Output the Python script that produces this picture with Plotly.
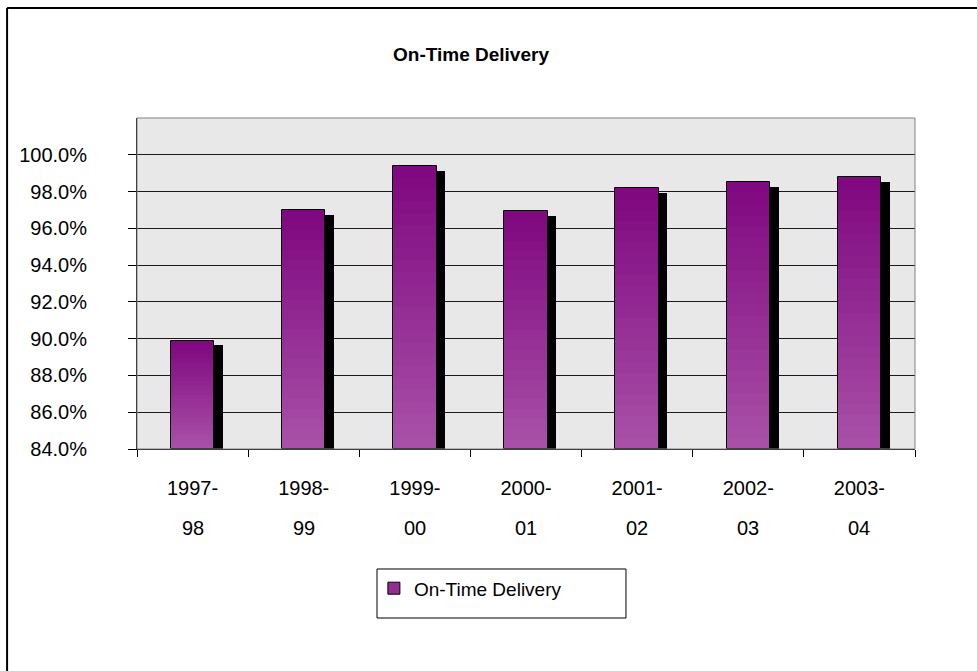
import plotly.graph_objects as go

# Daten
jahre = ['1997-98', '1998-99', '1999-00', '2000-01', '2001-02', '2002-03', '2003-04']
zeile1 = ['1997-', '1998-', '1999-', '2000-', '2001-', '2002-', '2003-']
zeile2 = ['98', '99', '00', '01', '02', '03', '04']
puenktlich = [89.9, 97.0, 99.4, 96.95, 98.2, 98.5, 98.8]
y_ticks = [84, 86, 88, 90, 92, 94, 96, 98, 100]

BASIS = 84
FONT = 'Arial, Liberation Sans, sans-serif'
DUNKEL = (0x80, 0x08, 0x80)
HELL = (0xA8, 0x50, 0xA8)
BREITE = 0.39
SCHICHTEN = 24


def mische(t):
    r, g, b = [round(d + (h - d) * t) for d, h in zip(DUNKEL, HELL)]
    return f'rgb({r},{g},{b})'


fig = go.Figure()

# Schatten
fig.add_trace(go.Bar(
    x=jahre, y=[v - 0.27 - BASIS for v in puenktlich], base=BASIS,
    width=BREITE, offset=-BREITE / 2 + 0.078,
    marker=dict(color='black', line=dict(width=0)),
    showlegend=False, hoverinfo='skip',
))

# Farbverlauf über gestapelte Schichten
for k in range(SCHICHTEN):
    anteil = 1 - k / SCHICHTEN
    fig.add_trace(go.Bar(
        x=jahre, y=[(v - BASIS) * anteil for v in puenktlich], base=BASIS,
        width=BREITE, offset=-BREITE / 2,
        marker=dict(color=mische(k / (SCHICHTEN - 1)), line=dict(width=0)),
        showlegend=False, hoverinfo='skip',
    ))

# Umriss
fig.add_trace(go.Bar(
    x=jahre, y=[v - BASIS for v in puenktlich], base=BASIS,
    width=BREITE, offset=-BREITE / 2,
    name='On-Time Delivery',
    marker=dict(color='rgba(0,0,0,0)', line=dict(color='black', width=1)),
    hovertemplate='%{x}: %{y:.1f}%<extra></extra>',
    showlegend=False,
))
# Legendeneintrag
fig.add_trace(go.Bar(
    x=[None], y=[None], name='On-Time Delivery',
    marker=dict(color=mische(0.5), line=dict(color='black', width=1)),
))

for j, t in zip(jahre, zeile2):
    fig.add_annotation(x=j, y=-0.2387, xref='x', yref='paper', text=t,
                       showarrow=False, yanchor='middle',
                       font=dict(family=FONT, size=20, color='black'))

# Rahmen
fig.add_shape(type='rect', xref='paper', yref='paper', x0=0, x1=1, y0=0, y1=1,
              line=dict(color='#808080', width=1), layer='above')
fig.add_shape(type='rect', xref='paper', yref='paper',
              x0=0.3085, x1=0.6285, y0=-0.5106, y1=-0.3625,
              line=dict(color='black', width=1))
fig.add_shape(type='line', xref='paper', yref='paper',
              x0=-0.167, x1=1.09, y0=1.332, y1=1.332, line=dict(color='black', width=2))
fig.add_shape(type='line', xref='paper', yref='paper',
              x0=-0.167, x1=-0.167, y0=1.332, y1=-0.7, line=dict(color='black', width=2))

fig.update_layout(
    width=977, height=671,
    margin=dict(l=137, r=62, t=118, b=222),
    paper_bgcolor='white', plot_bgcolor='#E8E8E8',
    barmode='overlay', bargap=0,
    title=dict(text='<b>On-Time Delivery</b>', x=471 / 977, xanchor='center',
               y=1 - 54 / 671, yanchor='middle',
               font=dict(family=FONT, size=19, color='black')),
    font=dict(family=FONT, size=20, color='black'),
    legend=dict(orientation='h', x=0.3045, xanchor='left', y=-0.421, yanchor='middle',
                bgcolor='rgba(0,0,0,0)', borderwidth=0,
                font=dict(family=FONT, size=19, color='black')),
    showlegend=True,
)

fig.update_xaxes(
    type='category', tickmode='array', tickvals=jahre, ticktext=zeile1,
    tickson='boundaries', ticks='outside', ticklen=7, tickcolor='black',
    ticklabelstandoff=21,
    showline=True, linecolor='black', linewidth=1,
    showgrid=False, zeroline=False,
    tickfont=dict(family=FONT, size=20, color='black'),
)
fig.update_yaxes(
    range=[84, 102], tickmode='array', tickvals=y_ticks,
    ticktext=[f'{v:.1f}%' for v in y_ticks],
    ticks='outside', ticklen=8, tickcolor='black', ticklabelstandoff=37,
    showline=True, linecolor='black', linewidth=1,
    showgrid=True, gridcolor='#1a1a1a', gridwidth=1, zeroline=False,
    tickfont=dict(family=FONT, size=20, color='black'),
)

fig.write_html('out.html', config={'displayModeBar': False},
               post_script="document.body.style.margin='0';")
